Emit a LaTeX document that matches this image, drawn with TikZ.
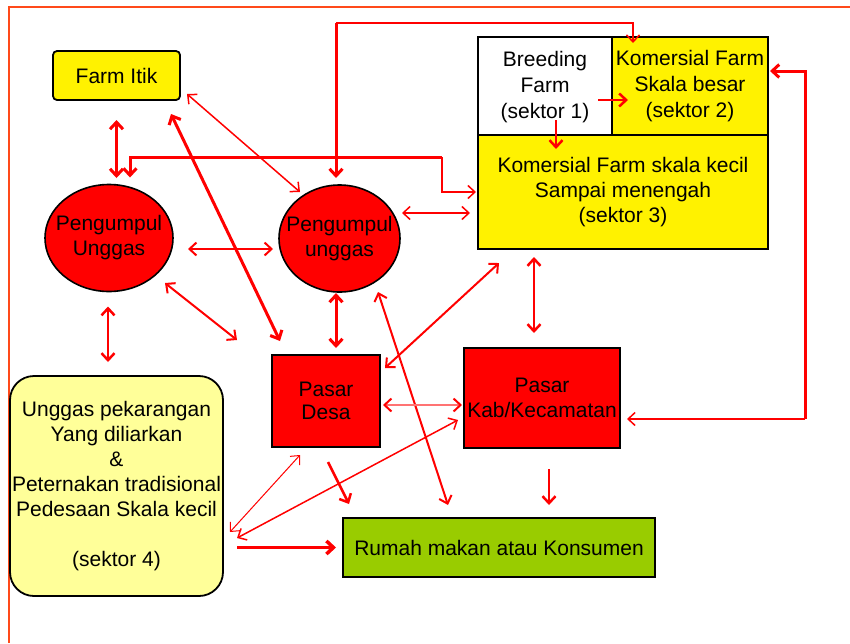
\documentclass[tikz,border=0pt]{standalone}
\usepackage{fontspec}
\setmainfont{Liberation Sans}
\usetikzlibrary{arrows.meta,shapes.geometric}
\definecolor{framecol}{HTML}{FF4A1A}
\definecolor{lyel}{HTML}{FFFF99}
\definecolor{grn}{HTML}{99CC00}
\begin{document}
\begin{tikzpicture}[x=1pt,y=-1pt,
  txt/.style={font=\fontsize{21}{25}\selectfont, align=center, inner sep=0pt, outer sep=0pt},
  box/.style={txt, rectangle, draw=black, line width=1.8pt},
  oval/.style={ellipse, draw=black, line width=1.6pt, fill=red, inner sep=0pt, outer sep=0pt},
  >={Straight Barb[length=7pt,width=13pt]},
  con/.style={draw=red, line width=#1},
  con/.default=2pt]
\useasboundingbox (0,0) rectangle (850,643);
% frame
\draw[framecol, line width=1.5pt] (9,643) -- (9,7) -- (850,7);
% nodes
\node[box, fill=yellow, rounded corners=4pt, minimum width=127pt, minimum height=49pt] (fi) at (116.5,75.5) {Farm Itik};
\node[oval, minimum width=128pt, minimum height=107pt] (pu1) at (109,238) {};
\node[txt] at (pu1) {Pengumpul\\Unggas};
\node[oval, minimum width=121pt, minimum height=107pt] (pu2) at (339.5,238.5) {};
\node[txt] at (pu2) {Pengumpul\\unggas};
\node[box, fill=white, minimum width=134pt, minimum height=98pt, font=\fontsize{21}{26}\selectfont, text depth=2pt] (bf) at (545,86) {Breeding\\Farm\\(sektor 1)};
\node[box, fill=yellow, minimum width=156pt, minimum height=98pt, font=\fontsize{21}{26}\selectfont] (kf) at (690,86) {Komersial Farm\\Skala besar\\(sektor 2)};
\node[box, fill=yellow, minimum width=290pt, minimum height=114pt] (s3) at (623,192) {Komersial Farm skala kecil\\Sampai menengah\\(sektor 3)};
\node[box, fill=red, minimum width=108pt, minimum height=92pt, font=\fontsize{21}{23}\selectfont] (pd) at (326,401) {Pasar\\Desa};
\node[box, fill=red, minimum width=156pt, minimum height=100pt] (pk) at (542,398) {Pasar\\Kab/Kecamatan};
\node[box, fill=grn, minimum width=312pt, minimum height=59pt] (rm) at (499,547.5) {Rumah makan atau Konsumen};
\node[box, fill=lyel, rounded corners=24pt, minimum width=213pt, minimum height=220pt] (up) at (116.5,486) {Unggas pekarangan\\Yang diliarkan\\\&\\Peternakan tradisional\\Pedesaan Skala kecil\\[25pt](sektor 4)};
% connectors
\draw[con=3pt,<->] ([shift={(0,20)}]fi.south) -- ([shift={(7.5,-6.5)}]pu1.north);
\draw[con=1.5pt,<->] ([shift={(7,-6)}]fi.south east) -- ([shift={(-39.5,7)}]pu2.north);
\draw[con=3pt,<->] ([shift={(-9,14)}]fi.south east) -- ([shift={(8,-14)}]pd.north west);
\draw[con=2pt,<->] ([shift={(15,11)}]pu1.east) -- ([shift={(-6,10.5)}]pu2.west);
\draw[con=2pt,<->] ([shift={(56,-8.5)}]pu1.south) -- ([shift={(-35,-15)}]pd.north west);
\draw[con=2.5pt,<->] ([shift={(-1,15)}]pu1.south) -- ([shift={(-8.5,-14)}]up.north);
\draw[con=3pt,<->] ([shift={(-3.5,1)}]pu2.south) -- ([shift={(10,-7)}]pd.north);
\draw[con=2pt,<->] ([shift={(38.5,0)}]pu2.south) -- ([shift={(105,-13)}]rm.north west);
\draw[con=2pt,<->] ([shift={(21,14)}]s3.south west) -- ([shift={(5,13)}]pd.north east);
\draw[con=2.5pt,<->] ([shift={(-89,8)}]s3.south) -- ([shift={(-8,-15)}]pk.north);
\draw[draw=red!55, line width=2pt, {Straight Barb[length=7pt,width=13pt,color=red]}-{Straight Barb[length=7pt,width=13pt,color=red]}] ([shift={(3,4)}]pd.east) -- ([shift={(-2,7)}]pk.west);
\draw[con=1pt,<->] ([shift={(7,46)}]up.east) -- ([shift={(-26,8)}]pd.south);
\draw[con=1.5pt,<->] ([shift={(14,52)}]up.east) -- ([shift={(-6,22)}]pk.west);
\draw[con=3.5pt,->] ([shift={(14,61.5)}]up.east) -- ([shift={(-7,0)}]rm.west);
\draw[con=2.5pt,->] ([shift={(2,15)}]pd.south) -- ([shift={(6,-14)}]rm.north west);
\draw[con=2.5pt,->] ([shift={(7,21)}]pk.south) -- ([shift={(50,-13)}]rm.north);
% top route
\coordinate (t1) at (336,23);
\draw[con=3pt,->] (t1) -- ([shift={(-3.5,-7)}]pu2.north);
\draw[con=1.5pt,->] (t1) -| ([shift={(-57,6)}]kf.north);
% route at y=157
\coordinate (t2) at (442,157);
\draw[con=3pt,->] (t2) -| ([shift={(21,-7)}]pu1.north);
\draw[con=1.5pt,->] (t2) |- ([shift={(-2,0)}]s3.west);
\draw[con=1.5pt,<->] ([shift={(2,-25.5)}]pu2.east) -- ([shift={(-8,21)}]s3.west);
% inside top-right block
\draw[con=2.5pt,->] ([shift={(-14,14)}]bf.east) -- ([shift={(16,14)}]kf.west);
\draw[con=2.5pt,->] ([shift={(11,-15)}]bf.south) -- ([shift={(-67,14)}]s3.north);
% right loop
\coordinate (t3) at (805,419);
\draw[con=1.5pt,->] (t3) -- ([shift={(7,21)}]pk.east);
\draw[con=3pt,->] (t3) |- ([shift={(2,-15)}]kf.east);
\end{tikzpicture}
\end{document}
